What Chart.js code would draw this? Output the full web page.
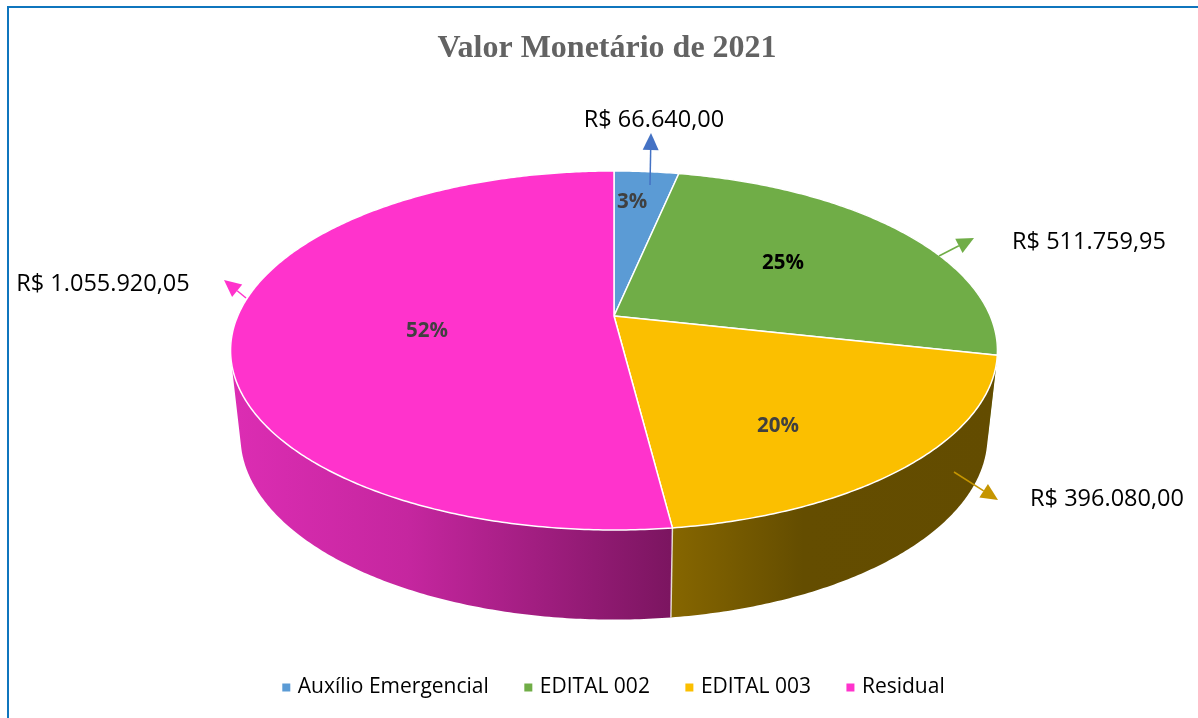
<!DOCTYPE html>
<html lang="pt-BR">

<head>
    <meta charset="UTF-8">
    <title>Valor Monetário de 2021</title>
    <script src="https://cdn.jsdelivr.net/npm/chart.js"></script>
    <style>
        html, body { margin: 0; padding: 0; background: #fff; overflow: hidden; }
        #frame { position: absolute; left: 7px; top: 6px; right: 0; bottom: 0; border-left: 2px solid #0f75bd; border-top: 2px solid #0f75bd; }
        #pieChart { position: absolute; left: 0; top: 0; }
    </style>
</head>

<body>
    <div id="frame"></div>
    <canvas id="pieChart" width="1198" height="718"></canvas>

    <script>
        const categories = ['Auxílio Emergencial', 'EDITAL 002', 'EDITAL 003', 'Residual'];
        const amounts = [66640.00, 511759.95, 396080.00, 1055920.05];
        const sliceColors = ['#5b9bd5', '#70ad47', '#fbbf00', '#ff33cc'];
        const arrowColors = ['#4472c4', '#70ad47', '#c59500', '#ff33cc'];

        // where the callouts sit on the page
        const amountLabelPos = [[654, 120], [1089, 242], [1107, 499], [103, 284]];
        const percentLabelPos = [[632, 202], [783, 263], [778, 426], [427, 331]];
        const percentLabelColors = ['#404040', '#000000', '#404040', '#404040'];
        const arrowLines = [[650, 185, 651, 133], [939, 256, 974, 238], [954, 472, 998, 500], [246, 298, 224, 280]];

        // tilted disc: perspective of the top face, then offset of the lower rim
        const disc = { cx: 614, cy: 316, a: 376.3, b: 172.9, k: -0.192 };
        const lower = { s: 0.974, t: 1.02, y0: 436, midY: 350 };

        function topPoint(angle) {
            const x = Math.cos(angle), y = Math.sin(angle);
            const w = 1 + disc.k * y;
            return [disc.cx + disc.a * x / w, disc.cy + disc.b * y / w];
        }

        function lowerPoint(angle) {
            const p = topPoint(angle);
            return [disc.cx + lower.s * (p[0] - disc.cx), lower.y0 + lower.t * (p[1] - lower.midY)];
        }

        function rimAngles(arc) {
            const list = [];
            const steps = Math.max(2, Math.ceil((arc.endAngle - arc.startAngle) / 0.01));
            for (let i = 0; i <= steps; i++) {
                list.push(arc.startAngle + (arc.endAngle - arc.startAngle) * i / steps);
            }
            return list;
        }

        function wallFill(ctx, index, color) {
            if (index === 3) {
                const g = ctx.createLinearGradient(232, 0, 672, 0);
                g.addColorStop(0, '#dc2db3');
                g.addColorStop(0.4, '#c5269f');
                g.addColorStop(1, '#7b1560');
                return g;
            }
            if (index === 2) {
                const g = ctx.createLinearGradient(672, 0, 1000, 0);
                g.addColorStop(0, '#866600');
                g.addColorStop(0.4, '#644d00');
                g.addColorStop(1, '#634c00');
                return g;
            }
            return color;
        }

        // one path of same-way-round quads so the wall has no seams inside
        function addWallQuads(ctx, angles) {
            for (let n = 0; n < angles.length - 1; n++) {
                let q = [topPoint(angles[n]), topPoint(angles[n + 1]), lowerPoint(angles[n + 1]), lowerPoint(angles[n])];
                let area = 0;
                q.forEach((p, j) => {
                    const r = q[(j + 1) % 4];
                    area += p[0] * r[1] - r[0] * p[1];
                });
                if (area < 0) q = q.reverse();
                ctx.moveTo(q[0][0], q[0][1]);
                ctx.lineTo(q[1][0], q[1][1]);
                ctx.lineTo(q[2][0], q[2][1]);
                ctx.lineTo(q[3][0], q[3][1]);
                ctx.closePath();
            }
        }

        const tiltedPie = {
            id: 'tiltedPie',
            afterLayout(chart) {
                // legend row sits a little right of the title and higher than the default
                chart.legend.left += 8;
                chart.legend.right += 8;
                chart.legend.top -= 10;
                chart.legend.bottom -= 10;
            },
            beforeDatasetDraw(chart) {
                const ctx = chart.ctx;
                const arcs = chart.getDatasetMeta(0).data;
                ctx.save();
                ctx.lineJoin = 'round';

                // side wall
                [0, 1, 3, 2].forEach(i => {
                    ctx.beginPath();
                    addWallQuads(ctx, rimAngles(arcs[i]));
                    ctx.fillStyle = wallFill(ctx, i, sliceColors[i]);
                    ctx.fill();
                });

                // seam between the two visible walls
                const seamTop = topPoint(arcs[3].startAngle), seamLow = lowerPoint(arcs[3].startAngle);
                ctx.beginPath();
                ctx.moveTo(seamTop[0], seamTop[1]);
                ctx.lineTo(seamLow[0], seamLow[1]);
                ctx.strokeStyle = 'rgba(255,255,255,0.75)';
                ctx.lineWidth = 1.5;
                ctx.stroke();

                // top face
                arcs.forEach((arc, i) => {
                    ctx.beginPath();
                    ctx.moveTo(disc.cx, disc.cy);
                    rimAngles(arc).forEach(a => {
                        const p = topPoint(a);
                        ctx.lineTo(p[0], p[1]);
                    });
                    ctx.closePath();
                    ctx.fillStyle = sliceColors[i];
                    ctx.fill();
                    ctx.strokeStyle = '#ffffff';
                    ctx.lineWidth = 1.5;
                    ctx.stroke();
                });
                ctx.restore();
                return false;
            },
            afterDatasetsDraw(chart) {
                const ctx = chart.ctx;
                const total = amounts.reduce((s, v) => s + v, 0);
                ctx.save();

                // arrows
                arrowLines.forEach((l, i) => {
                    const ang = Math.atan2(l[3] - l[1], l[2] - l[0]);
                    const headLen = 17, headW = 8;
                    const bx = l[2] - headLen * Math.cos(ang), by = l[3] - headLen * Math.sin(ang);
                    ctx.strokeStyle = arrowColors[i];
                    ctx.fillStyle = arrowColors[i];
                    ctx.lineWidth = 1.5;
                    ctx.beginPath();
                    ctx.moveTo(l[0], l[1]);
                    ctx.lineTo(bx, by);
                    ctx.stroke();
                    ctx.beginPath();
                    ctx.moveTo(l[2], l[3]);
                    ctx.lineTo(bx - headW * Math.sin(ang), by + headW * Math.cos(ang));
                    ctx.lineTo(bx + headW * Math.sin(ang), by - headW * Math.cos(ang));
                    ctx.closePath();
                    ctx.fill();
                });

                ctx.textAlign = 'center';
                ctx.textBaseline = 'middle';

                // percentages
                ctx.font = 'bold 20.5px "Open Sans"';
                amounts.forEach((v, i) => {
                    ctx.fillStyle = percentLabelColors[i];
                    ctx.fillText(Math.round(v / total * 100) + '%', percentLabelPos[i][0], percentLabelPos[i][1]);
                });

                // amounts
                ctx.font = '23.5px "Open Sans"';
                ctx.fillStyle = '#000000';
                amounts.forEach((v, i) => {
                    const txt = 'R$ ' + v.toLocaleString('pt-BR', { minimumFractionDigits: 2, maximumFractionDigits: 2 });
                    ctx.fillText(txt, amountLabelPos[i][0], amountLabelPos[i][1]);
                });
                ctx.restore();
            }
        };

        new Chart(document.getElementById('pieChart').getContext('2d'), {
            type: 'pie',
            data: {
                labels: categories,
                datasets: [{ data: amounts, backgroundColor: sliceColors, borderColor: '#ffffff' }]
            },
            options: {
                responsive: false,
                animation: false,
                events: [],
                layout: { padding: { left: 16 } },
                plugins: {
                    title: {
                        display: true,
                        text: 'Valor Monetário de 2021',
                        color: '#636363',
                        font: { family: '"Liberation Serif"', size: 32, weight: 'bold' },
                        padding: { top: 30, bottom: 10 }
                    },
                    legend: {
                        position: 'bottom',
                        labels: {
                            color: '#000000',
                            font: { family: '"Open Sans"', size: 21 },
                            usePointStyle: true,
                            pointStyle: 'rect',
                            boxWidth: 2,
                            boxHeight: 10,
                            padding: 38.5
                        }
                    },
                    tooltip: { enabled: false }
                }
            },
            plugins: [tiltedPie]
        });
    </script>
</body>

</html>
